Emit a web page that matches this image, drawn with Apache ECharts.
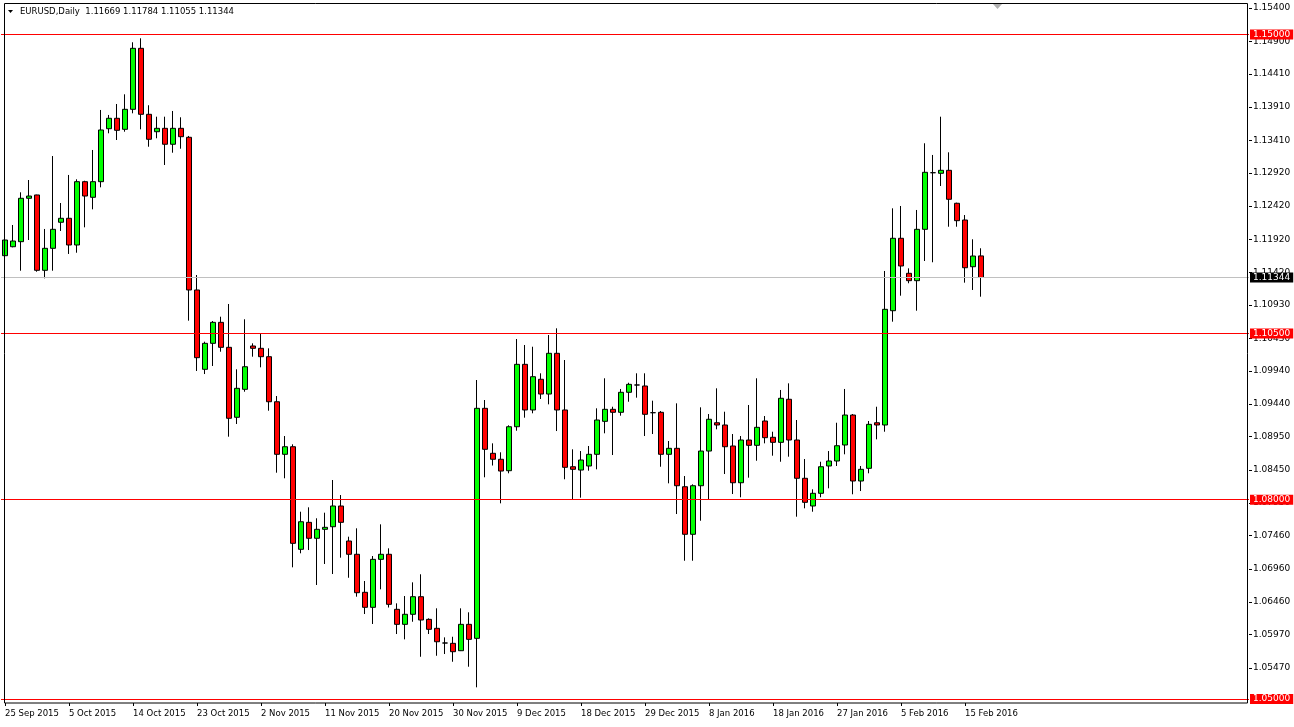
<!DOCTYPE html>
<html><head><meta charset="utf-8">
<script src="https://cdn.jsdelivr.net/npm/echarts@6/dist/echarts.min.js"></script>
<style>html,body{margin:0;padding:0;background:#fff}#c{width:1294px;height:727px}</style>
</head><body><div id="c"></div>
<script>
const symbolName = 'EURUSD,Daily';
const dates = ['25 Sep 2015','27 Sep 2015','28 Sep 2015','29 Sep 2015','30 Sep 2015','1 Oct 2015','2 Oct 2015','4 Oct 2015','5 Oct 2015','6 Oct 2015','7 Oct 2015','8 Oct 2015','9 Oct 2015','11 Oct 2015','12 Oct 2015','13 Oct 2015','14 Oct 2015','15 Oct 2015','16 Oct 2015','18 Oct 2015','19 Oct 2015','20 Oct 2015','21 Oct 2015','22 Oct 2015','23 Oct 2015','25 Oct 2015','26 Oct 2015','27 Oct 2015','28 Oct 2015','29 Oct 2015','30 Oct 2015','1 Nov 2015','2 Nov 2015','3 Nov 2015','4 Nov 2015','5 Nov 2015','6 Nov 2015','8 Nov 2015','9 Nov 2015','10 Nov 2015','11 Nov 2015','12 Nov 2015','13 Nov 2015','15 Nov 2015','16 Nov 2015','17 Nov 2015','18 Nov 2015','19 Nov 2015','20 Nov 2015','22 Nov 2015','23 Nov 2015','24 Nov 2015','25 Nov 2015','26 Nov 2015','27 Nov 2015','29 Nov 2015','30 Nov 2015','1 Dec 2015','2 Dec 2015','3 Dec 2015','4 Dec 2015','6 Dec 2015','7 Dec 2015','8 Dec 2015','9 Dec 2015','10 Dec 2015','11 Dec 2015','13 Dec 2015','14 Dec 2015','15 Dec 2015','16 Dec 2015','17 Dec 2015','18 Dec 2015','20 Dec 2015','21 Dec 2015','22 Dec 2015','23 Dec 2015','24 Dec 2015','27 Dec 2015','28 Dec 2015','29 Dec 2015','30 Dec 2015','31 Dec 2015','3 Jan 2016','4 Jan 2016','5 Jan 2016','6 Jan 2016','7 Jan 2016','8 Jan 2016','10 Jan 2016','11 Jan 2016','12 Jan 2016','13 Jan 2016','14 Jan 2016','15 Jan 2016','17 Jan 2016','18 Jan 2016','19 Jan 2016','20 Jan 2016','21 Jan 2016','22 Jan 2016','24 Jan 2016','25 Jan 2016','26 Jan 2016','27 Jan 2016','28 Jan 2016','29 Jan 2016','31 Jan 2016','1 Feb 2016','2 Feb 2016','3 Feb 2016','4 Feb 2016','5 Feb 2016','7 Feb 2016','8 Feb 2016','9 Feb 2016','10 Feb 2016','11 Feb 2016','12 Feb 2016','14 Feb 2016','15 Feb 2016','16 Feb 2016','17 Feb 2016'];
const open = [1.11672,1.11807,1.11883,1.12536,1.12586,1.11452,1.11783,1.12175,1.12235,1.11833,1.12786,1.12551,1.12786,1.13583,1.13740,1.13574,1.13875,1.14793,1.13800,1.13538,1.13589,1.13349,1.13589,1.13454,1.11156,1.09962,1.10353,1.10669,1.10293,1.09240,1.09661,1.10313,1.10278,1.10152,1.09474,1.08683,1.08797,1.07253,1.07659,1.07419,1.07554,1.07593,1.07905,1.07378,1.07178,1.06606,1.06380,1.07102,1.07178,1.06350,1.06124,1.06275,1.06540,1.06199,1.06064,1.05843,1.05838,1.05727,1.06124,1.05913,1.09375,1.08698,1.08608,1.08436,1.09098,1.10037,1.09350,1.09812,1.09590,1.10203,1.09350,1.08496,1.08446,1.08507,1.08683,1.09179,1.09360,1.09315,1.09616,1.09726,1.09711,1.09309,1.09315,1.08683,1.08773,1.08195,1.07479,1.08210,1.08732,1.09158,1.09124,1.08808,1.08255,1.08898,1.08818,1.09184,1.08939,1.08863,1.09511,1.08898,1.08322,1.07905,1.08096,1.08507,1.08582,1.08823,1.09274,1.08281,1.08472,1.09158,1.09124,1.10844,1.11934,1.11407,1.11296,1.12069,1.12921,1.12912,1.12957,1.12461,1.12209,1.11506,1.11669];
const high = [1.12108,1.12134,1.12626,1.12811,1.12590,1.12074,1.13172,1.12465,1.12887,1.12822,1.12800,1.13263,1.13865,1.13790,1.13955,1.14101,1.14884,1.14944,1.13936,1.13764,1.13764,1.13850,1.13755,1.13474,1.11381,1.10378,1.10689,1.10754,1.10945,1.09962,1.10715,1.10353,1.10504,1.10278,1.09560,1.08958,1.08833,1.07819,1.07885,1.07720,1.07804,1.08296,1.08070,1.07443,1.07569,1.06776,1.07152,1.07629,1.07268,1.06440,1.06550,1.06756,1.06877,1.06214,1.06365,1.05928,1.05937,1.06365,1.06305,1.09801,1.09500,1.08848,1.08713,1.09119,1.10418,1.10328,1.10302,1.09902,1.10478,1.10579,1.10102,1.08758,1.08732,1.08808,1.09375,1.09827,1.09399,1.09666,1.09760,1.09902,1.09902,1.09490,1.09334,1.08883,1.09450,1.08356,1.08231,1.09390,1.09289,1.09676,1.09324,1.08988,1.08958,1.09425,1.09827,1.09259,1.09023,1.09651,1.09751,1.09199,1.08612,1.08156,1.08571,1.08732,1.09158,1.09666,1.09289,1.08507,1.09184,1.09399,1.11442,1.12385,1.12420,1.11482,1.12360,1.13364,1.13188,1.13764,1.13228,1.12470,1.12284,1.11919,1.11784];
const low = [1.11156,1.11798,1.11446,1.11908,1.11431,1.11332,1.11446,1.12044,1.11698,1.11717,1.12099,1.12370,1.12701,1.13514,1.13413,1.13538,1.13815,1.13574,1.13312,1.13439,1.13037,1.13222,1.13282,1.10694,1.09937,1.09891,1.10012,1.10227,1.08948,1.09139,1.09625,1.10152,1.09992,1.09339,1.08406,1.08322,1.06982,1.07193,1.07242,1.06716,1.07032,1.06881,1.07127,1.06825,1.06540,1.06279,1.06129,1.06651,1.06377,1.05978,1.05898,1.06163,1.05636,1.05978,1.05651,1.05677,1.05561,1.05722,1.05486,1.05176,1.08337,1.08514,1.07945,1.08397,1.09038,1.09234,1.09300,1.09515,1.09435,1.09033,1.08307,1.07995,1.08030,1.08436,1.08457,1.08999,1.08672,1.09264,1.09474,1.09535,1.08958,1.08988,1.08496,1.08246,1.07784,1.07081,1.07081,1.07683,1.07995,1.09059,1.08386,1.08085,1.08036,1.08331,1.08586,1.08848,1.08662,1.08571,1.08647,1.07744,1.07870,1.07819,1.08036,1.08171,1.08507,1.08683,1.08081,1.08130,1.08397,1.08908,1.09023,1.10679,1.11070,1.11257,1.10844,1.11592,1.11573,1.12721,1.12108,1.12108,1.11266,1.11156,1.11055];
const close = [1.11908,1.11893,1.12536,1.12570,1.11452,1.11783,1.12069,1.12235,1.11833,1.12786,1.12570,1.12786,1.13564,1.13740,1.13559,1.13875,1.14793,1.13800,1.13424,1.13589,1.13349,1.13589,1.13463,1.11156,1.10137,1.10353,1.10669,1.10293,1.09225,1.09676,1.10001,1.10278,1.10152,1.09474,1.08683,1.08797,1.07343,1.07668,1.07419,1.07554,1.07584,1.07905,1.07659,1.07178,1.06600,1.06380,1.07102,1.07178,1.06425,1.06124,1.06275,1.06540,1.06189,1.06049,1.05862,1.05843,1.05712,1.06124,1.05898,1.09375,1.08758,1.08608,1.08431,1.09098,1.10037,1.09350,1.09851,1.09590,1.10203,1.09350,1.08487,1.08457,1.08597,1.08683,1.09199,1.09360,1.09315,1.09616,1.09736,1.09726,1.09285,1.09309,1.08683,1.08773,1.08210,1.07479,1.08210,1.08732,1.09210,1.09124,1.08797,1.08255,1.08898,1.08818,1.09089,1.08933,1.08863,1.09526,1.08898,1.08322,1.07960,1.08096,1.08496,1.08582,1.08812,1.09274,1.08281,1.08457,1.09134,1.09124,1.10865,1.11934,1.11517,1.11296,1.12069,1.12927,1.12921,1.12957,1.12521,1.12199,1.11491,1.11667,1.11344];
const priceTicks = [1.15400,1.14900,1.14410,1.13910,1.13410,1.12920,1.12420,1.11920,1.11420,1.10930,1.10430,1.09940,1.09440,1.08950,1.08450,1.07950,1.07460,1.06960,1.06460,1.05970,1.05470];
const levels = [1.15000, 1.10500, 1.08000, 1.05000];

const FONT = 'DejaVu Sans';
const SLOTS = 156;
const cats = dates.concat(new Array(SLOTS - dates.length).fill(''));
const candles = open.map((o, i) => [o, close[i], low[i], high[i]]);
const last = open.length - 1;
const lastClose = close[last];
const header = symbolName + '  ' + [open[last], high[last], low[last], close[last]].map(v => v.toFixed(5)).join(' ');
const showDate = (i, v) => i % 8 === 0 && v !== '';

const chart = echarts.init(document.getElementById('c'), null, {renderer: 'canvas'});
chart.setOption({
  animation: false,
  backgroundColor: '#ffffff',
  grid: {left: 1, top: 4, width: 1248, height: 699, containLabel: false},
  xAxis: {
    type: 'category', data: cats, boundaryGap: true,
    axisLine: {show: false},
    axisTick: {show: true, alignWithLabel: true, interval: showDate, length: 3, lineStyle: {color: '#000'}},
    axisLabel: {interval: showDate, align: 'left', fontSize: 8.5, fontFamily: FONT, color: '#000', margin: 6},
    splitLine: {show: false}
  },
  yAxis: {
    type: 'value', position: 'right', min: 1.0494, max: 1.1546,
    splitLine: {show: false},
    axisLine: {show: false},
    axisTick: {show: true, customValues: priceTicks, length: 3, lineStyle: {color: '#000'}},
    axisLabel: {customValues: priceTicks, formatter: v => Number(v).toFixed(5), margin: 4, fontSize: 9, fontFamily: FONT, color: '#000'}
  },
  series: [{
    type: 'candlestick', data: candles, barWidth: 5,
    itemStyle: {color: '#00ff00', color0: '#ff0000', borderColor: '#000', borderColor0: '#000', borderColorDoji: '#000', borderWidth: 1},
    markLine: {
      silent: true, symbol: 'none', animation: false, precision: 5,
      lineStyle: {color: '#ff0000', width: 1, type: 'solid'},
      label: {position: 'end', distance: 1, formatter: p => Number(p.value).toFixed(5), backgroundColor: '#ff0000', color: '#ffffff', fontSize: 9, fontFamily: FONT, padding: [1, 3, 0, 3]},
      data: levels.map(v => ({yAxis: v})).concat([{
        yAxis: lastClose,
        lineStyle: {color: '#c0c0c0', width: 1, type: 'solid'},
        label: {backgroundColor: '#000000', color: '#ffffff'}
      }])
    }
  }],
  graphic: [
    {type: 'rect', shape: {x: 4.5, y: 3.5, width: 1243, height: 699.5}, style: {fill: 'none', stroke: '#000', lineWidth: 1}, silent: true, z: 100},
    {type: 'polygon', shape: {points: [[8, 10], [13, 10], [10.5, 13]]}, style: {fill: '#000'}, z: 100},
    {type: 'text', left: 20, top: 7, style: {text: header, font: '8.5px "DejaVu Sans"', fill: '#000'}, z: 100},
    {type: 'polygon', shape: {points: [[993, 4], [1002, 4], [997.5, 9]]}, style: {fill: '#b0b0b0'}, z: 100}
  ]
});
</script></body></html>
